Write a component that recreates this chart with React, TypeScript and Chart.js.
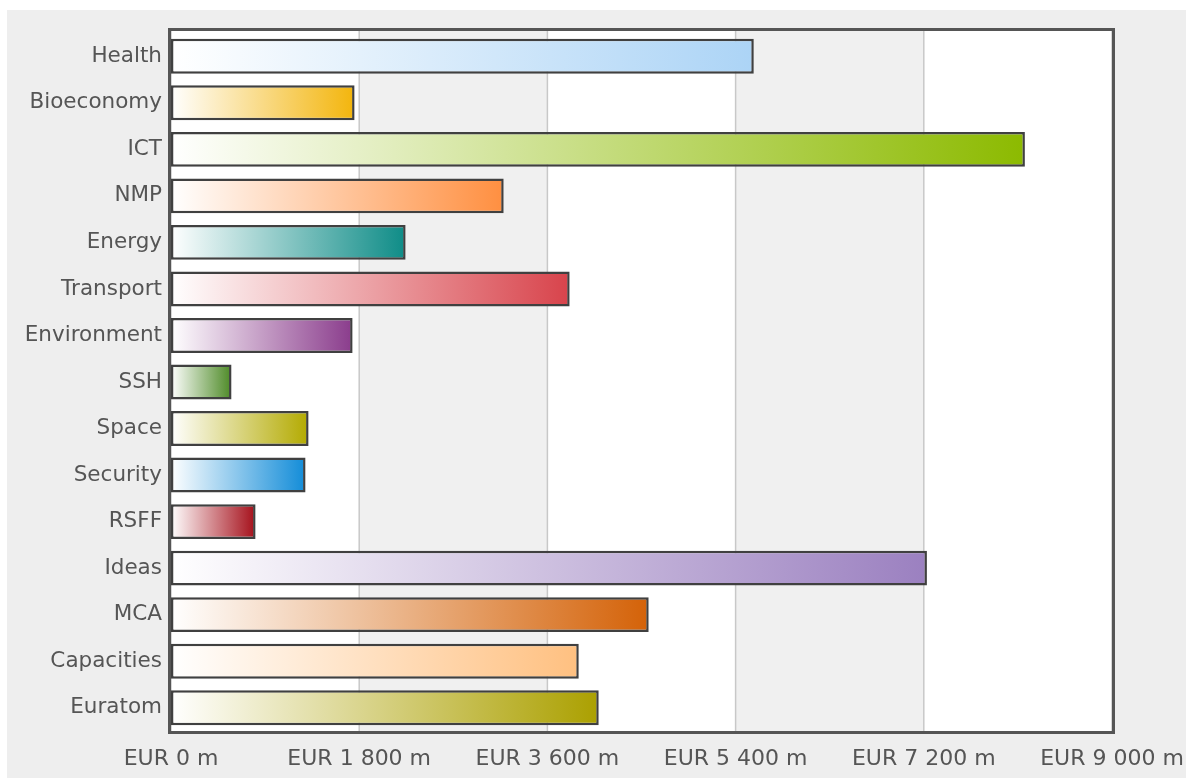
import React, { useEffect, useRef } from "react";
import { Chart, registerables } from "chart.js";

Chart.register(...registerables);

const categories = [
  "Health", "Bioeconomy", "ICT", "NMP", "Energy", "Transport", "Environment",
  "SSH", "Space", "Security", "RSFF", "Ideas", "MCA", "Capacities", "Euratom",
];
const budgetValues = [
  5574, 1756, 8167, 3182, 2244, 3813, 1737, 579, 1316, 1287, 809, 7230, 4569, 3900, 4091,
];
const barEndColors = [
  "#acd4f6", "#f3b50c", "#8cba00", "#ff8f40", "#0e8c87", "#d8434b", "#8a3c8c",
  "#4d8a26", "#b3aa00", "#128cd8", "#a50f1a", "#9b80c0", "#d46208", "#ffc080", "#aba000",
];
const tickValues = [0, 1800, 3600, 5400, 7200, 9000];

const fmt = (v: number) =>
  "EUR " + String(Math.round(v)).replace(/\B(?=(\d{3})+(?!\d))/g, " ") + " m";

const W = 1186;
const H = 782;

const decorPlugin = {
  id: "decor",
  beforeDraw(chart: any) {
    const { ctx, chartArea } = chart;
    const xs = chart.scales.x;
    ctx.save();
    ctx.fillStyle = "#ffffff";
    ctx.fillRect(0, 0, W, H);
    ctx.fillStyle = "#eeeeee";
    ctx.fillRect(7, 10, W - 7, H - 14);
    const top = chartArea.top - 2;
    const bottom = chartArea.bottom;
    ctx.fillStyle = "#ffffff";
    ctx.fillRect(chartArea.left, top, chartArea.right - chartArea.left, bottom - top);
    ctx.fillStyle = "#f0f0f0";
    for (let i = 0; i < tickValues.length - 1; i++) {
      if (i % 2 === 1) {
        const a = xs.getPixelForValue(tickValues[i]);
        const b = xs.getPixelForValue(tickValues[i + 1]);
        ctx.fillRect(a, top, b - a, bottom - top);
      }
    }
    ctx.strokeStyle = "#c8c8c8";
    ctx.lineWidth = 1.5;
    for (const t of tickValues) {
      const x = xs.getPixelForValue(t);
      ctx.beginPath();
      ctx.moveTo(x, top);
      ctx.lineTo(x, bottom);
      ctx.stroke();
    }
    ctx.restore();
  },
  beforeDatasetsDraw(chart: any) {
    const xs = chart.scales.x;
    const meta = chart.getDatasetMeta(0);
    meta.data.forEach((el: any, i: number) => {
      const x0 = xs.getPixelForValue(0);
      const x1 = xs.getPixelForValue(budgetValues[i]);
      if (!isFinite(x0) || !isFinite(x1)) return;
      const g = chart.ctx.createLinearGradient(x0, 0, x1, 0);
      g.addColorStop(0, "#ffffff");
      g.addColorStop(1, barEndColors[i]);
      el.options.backgroundColor = g;
    });
  },
  afterDatasetsDraw(chart: any) {
    const { ctx, chartArea } = chart;
    ctx.save();
    ctx.strokeStyle = "#555555";
    ctx.lineWidth = 3;
    ctx.strokeRect(
      chartArea.left - 1.5,
      chartArea.top - 3.5,
      chartArea.right - chartArea.left + 3,
      chartArea.bottom - chartArea.top + 5
    );
    ctx.restore();
  },
};

export default function App() {
  const ref = useRef<HTMLCanvasElement | null>(null);

  useEffect(() => {
    const canvas = ref.current;
    if (!canvas) return;
    const chart = new Chart(canvas, {
      type: "bar",
      data: {
        labels: categories,
        datasets: [
          {
            data: budgetValues,
            backgroundColor: barEndColors,
            borderColor: "#404040",
            borderWidth: 2.5,
            borderSkipped: false,
            barPercentage: 0.75,
            categoryPercentage: 1,
          },
        ],
      },
      options: {
        indexAxis: "y",
        responsive: false,
        animation: false,
        layout: { padding: { left: 0, top: 33, right: 74, bottom: 0 } },
        plugins: {
          legend: { display: false },
          tooltip: { enabled: false },
        },
        scales: {
          x: {
            type: "linear",
            min: 0,
            max: 9000,
            afterBuildTicks: (s: any) => {
              s.ticks = tickValues.map((v) => ({ value: v }));
            },
            afterFit: (s: any) => {
              s.height = 51;
              s.paddingLeft = 0;
              s.paddingRight = 0;
            },
            grid: { display: false, drawTicks: false },
            border: { display: false },
            ticks: {
              autoSkip: false,
              maxRotation: 0,
              padding: 15,
              color: "#555555",
              font: { family: "'DejaVu Sans', sans-serif", size: 22 },
              callback: (v: any) => fmt(Number(v)),
            },
          },
          y: {
            afterFit: (s: any) => {
              s.width = 171;
              s.paddingTop = 0;
              s.paddingBottom = 0;
            },
            grid: { display: false, drawTicks: false },
            border: { display: false },
            ticks: {
              padding: 9,
              color: "#555555",
              font: { family: "'DejaVu Sans', sans-serif", size: 21.5 },
            },
          },
        },
      },
      plugins: [decorPlugin],
    } as any);
    return () => chart.destroy();
  }, []);

  return (
    <div style={{ position: "fixed", left: 0, top: 0, width: W, height: H }}>
      <canvas ref={ref} width={W} height={H} style={{ display: "block" }} />
    </div>
  );
}
